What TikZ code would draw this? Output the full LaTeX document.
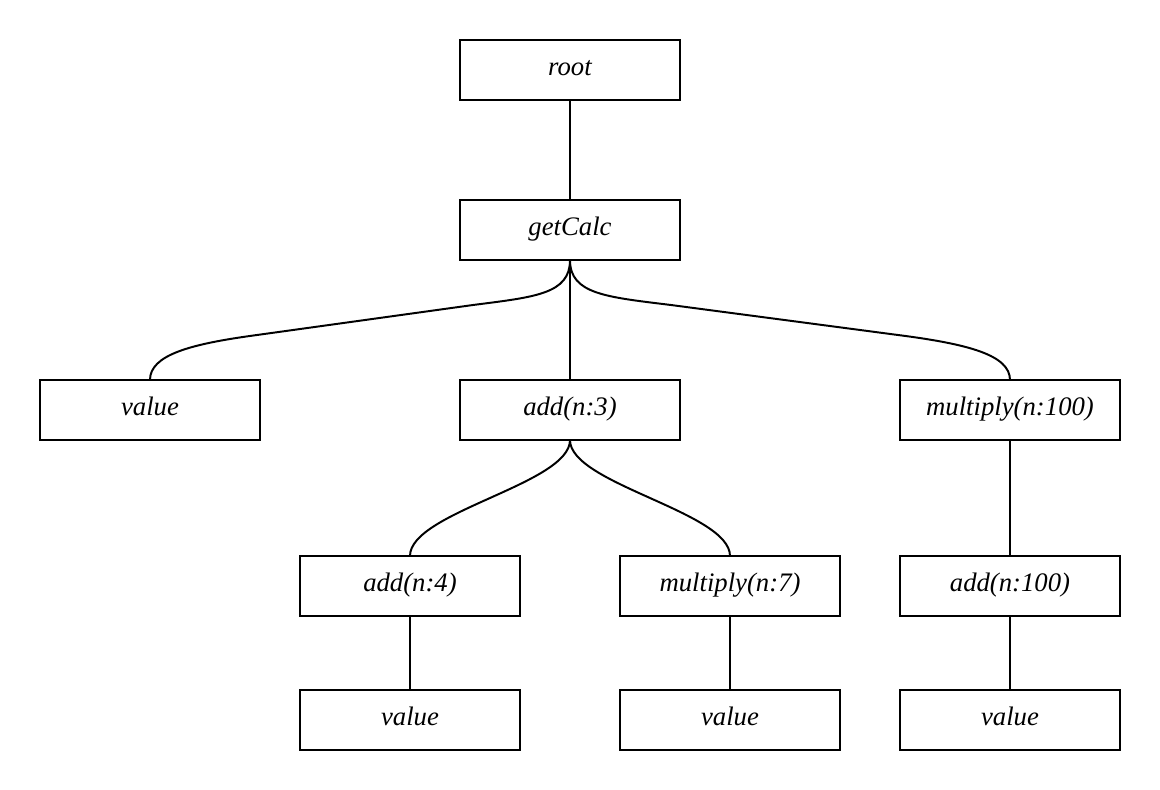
\documentclass[tikz,border=0pt]{standalone}
\usepackage{fontspec}
\setmainfont{Liberation Serif}
\usetikzlibrary{calc}
\begin{document}
\begin{tikzpicture}[x=0.025cm,y=-0.025cm,
  box/.style={draw,line width=1.4pt,rectangle,minimum width=5.5cm,minimum height=1.5cm,inner sep=0pt,outer sep=0pt,text height=11pt,text depth=3.8pt,font=\fontsize{19}{23}\selectfont\itshape},
  link/.style={line width=1.4pt}]
\useasboundingbox (0,0) rectangle (1160,790);
\node[box] (root) at (570,70) {root};
\node[box] (get) at (570,230) {getCalc};
\node[box] (v1) at (150,410) {value};
\node[box] (add3) at (570,410) {add(n:3)};
\node[box] (mul100) at (1010,410) {multiply(n:100)};
\node[box] (add4) at (410,586) {add(n:4)};
\node[box] (mul7) at (730,586) {multiply(n:7)};
\node[box] (add100) at (1010,586) {add(n:100)};
\node[box] (v2) at (410,720) {value};
\node[box] (v3) at (730,720) {value};
\node[box] (v4) at (1010,720) {value};
\draw[link] (root.south) -- (get.north);
\draw[link] (get.south) -- (add3.north);
\draw[link] (get.south) .. controls +(0,34) and (535,297) .. (473,305) -- (257,335) .. controls (190,344) and ($(v1.north)+(0,-25)$) .. (v1.north);
\draw[link] (get.south) .. controls +(0,34) and (606,297) .. (671,305) -- (898,335) .. controls (968,344) and ($(mul100.north)+(0,-25)$) .. (mul100.north);
\draw[link] (add3.south) .. controls +(0,44) and +(0,-44) .. (add4.north);
\draw[link] (add3.south) .. controls +(0,44) and +(0,-44) .. (mul7.north);
\draw[link] (mul100.south) -- (add100.north);
\draw[link] (add4.south) -- (v2.north);
\draw[link] (mul7.south) -- (v3.north);
\draw[link] (add100.south) -- (v4.north);
\end{tikzpicture}
\end{document}
